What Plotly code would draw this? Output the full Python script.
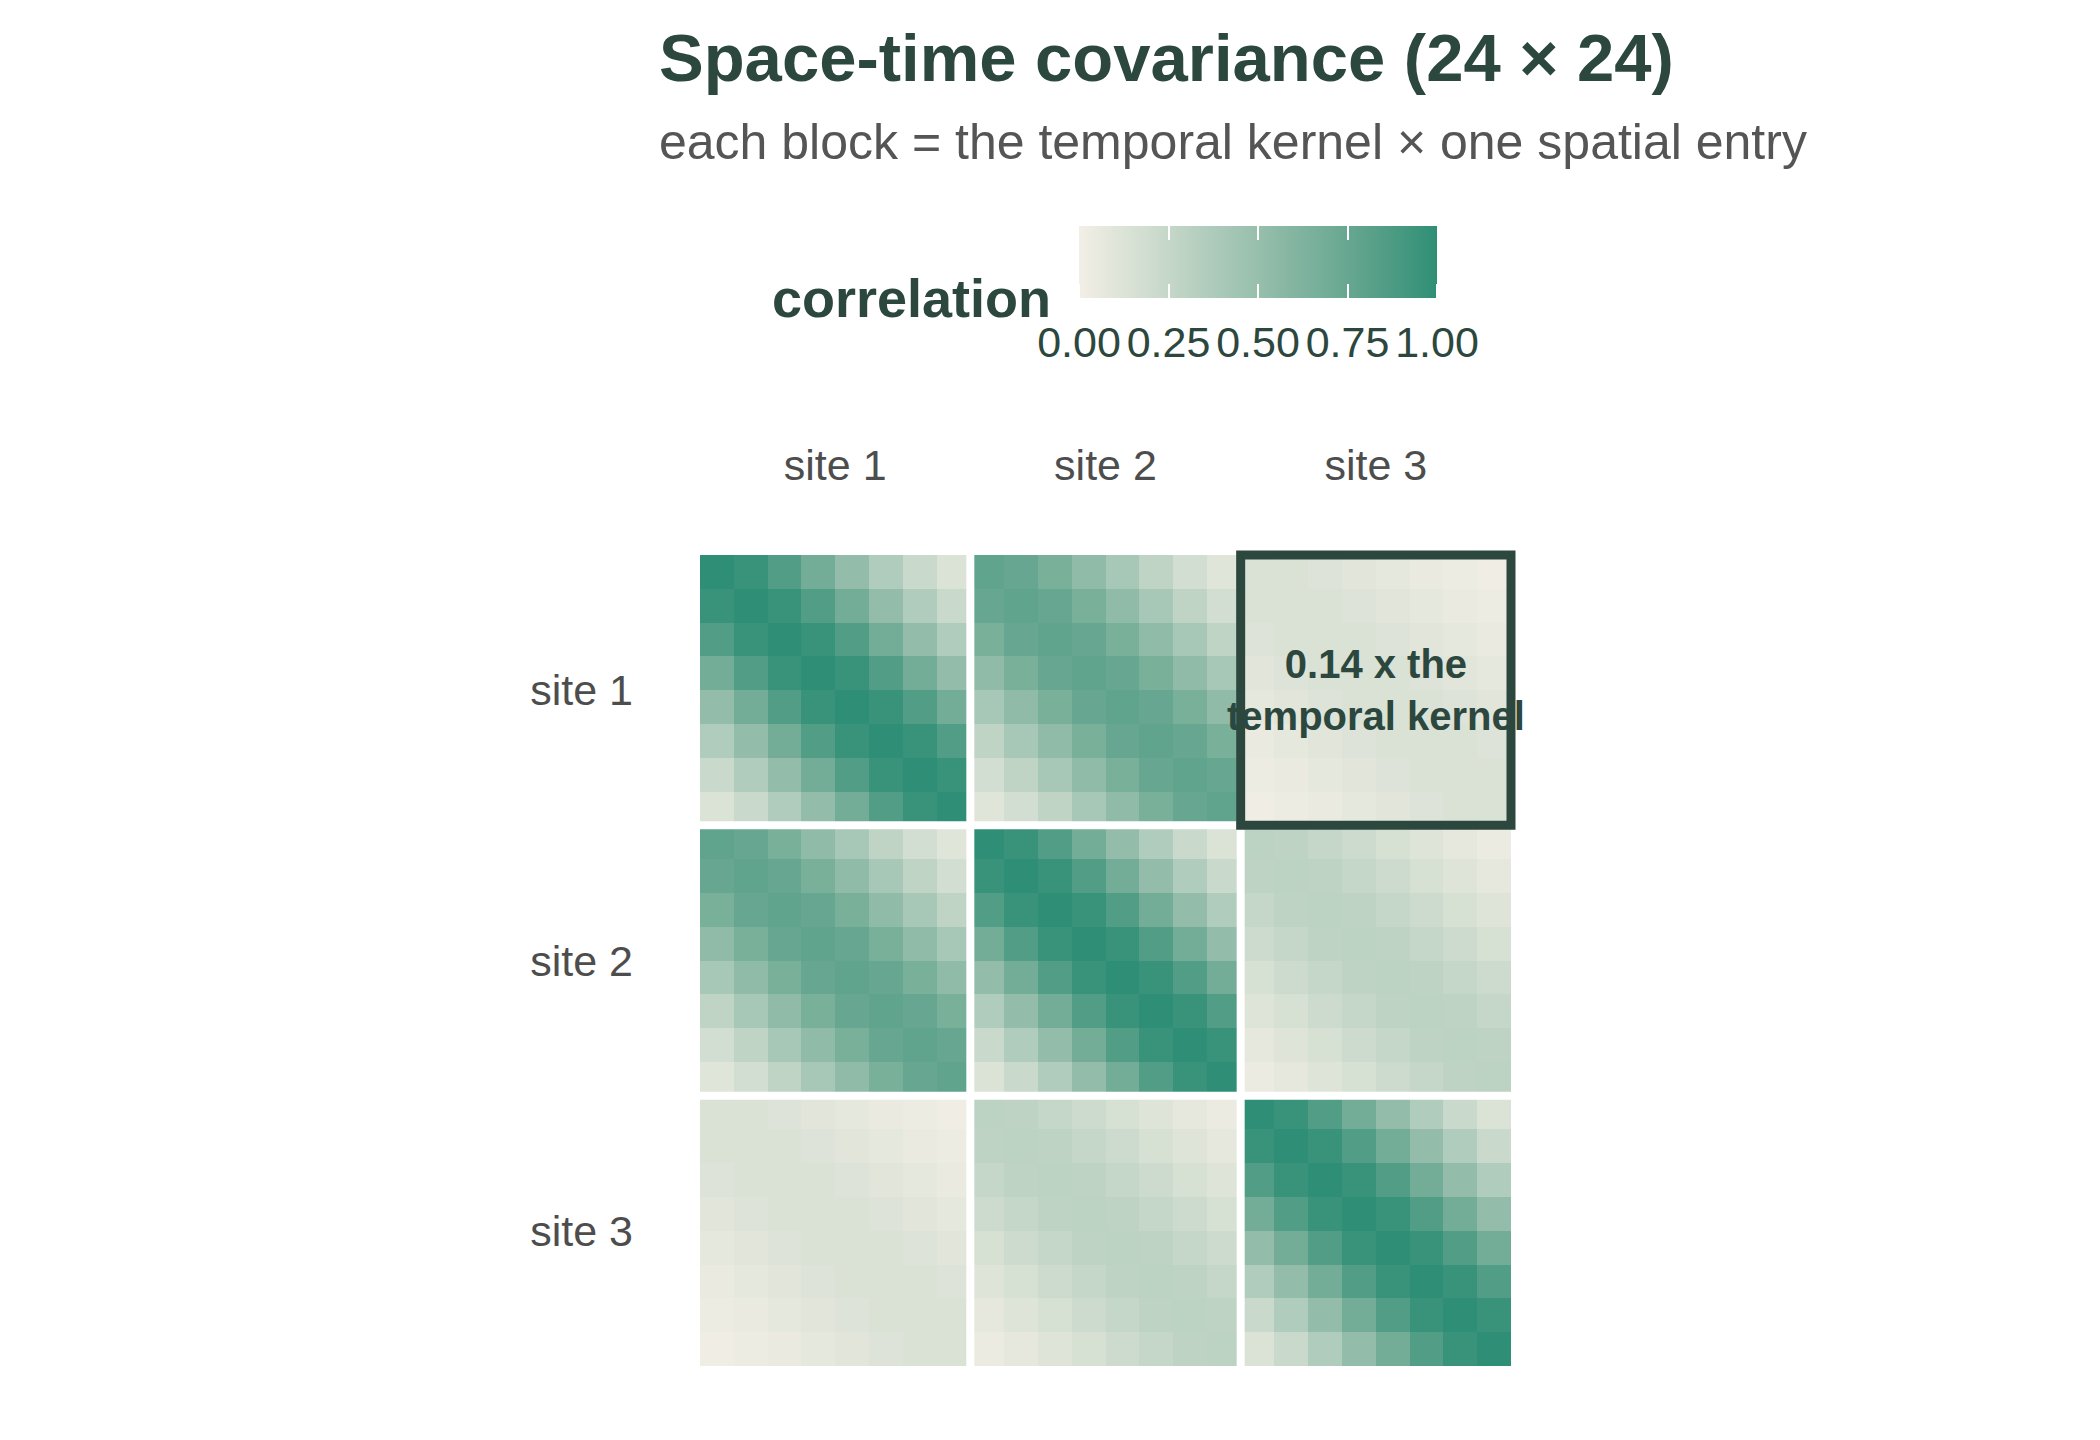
import plotly.graph_objects as go

# ---------------- data ----------------
sites = ["site 1", "site 2", "site 3"]
n_time = 8
# temporal kernel: correlation at lag 0..7
temporal_kernel = [1.00, 0.96, 0.85, 0.69, 0.52, 0.36, 0.23, 0.13]
# spatial correlation matrix between the three sites
spatial = [
    [1.00, 0.78, 0.14],
    [0.78, 1.00, 0.30],
    [0.14, 0.30, 1.00],
]
colorbar_ticks = [0.0, 0.25, 0.50, 0.75, 1.00]
highlight_block = (0, 2)  # (row site, column site)

# ---------------- build the 24 x 24 matrix (Kronecker product) ----------------
N = len(sites) * n_time
z = []
for i in range(N):
    row = []
    si, ti = divmod(i, n_time)
    for j in range(N):
        sj, tj = divmod(j, n_time)
        row.append(spatial[si][sj] * temporal_kernel[abs(ti - tj)])
    z.append(row)
idx = list(range(N))

# ---------------- colour scale interpolated in Lab (like ggplot) ----------------
LOW, HIGH = "#F3EFE6", "#2E8F76"


def _hex(h):
    return [int(h[k:k + 2], 16) for k in (1, 3, 5)]


def _lin(c):
    c = c / 255
    return c / 12.92 if c <= 0.04045 else ((c + 0.055) / 1.055) ** 2.4


def _delin(c):
    v = 12.92 * c if c <= 0.0031308 else 1.055 * max(c, 0) ** (1 / 2.4) - 0.055
    return max(0, min(255, round(v * 255)))


def _f(t):
    return t ** (1 / 3) if t > (6 / 29) ** 3 else t / (3 * (6 / 29) ** 2) + 4 / 29


def _finv(t):
    return t ** 3 if t > 6 / 29 else 3 * (6 / 29) ** 2 * (t - 4 / 29)


def to_lab(h):
    r, g, b = [_lin(c) for c in _hex(h)]
    X = (0.4124 * r + 0.3576 * g + 0.1805 * b) / 0.95047
    Y = 0.2126 * r + 0.7152 * g + 0.0722 * b
    Z = (0.0193 * r + 0.1192 * g + 0.9505 * b) / 1.08883
    return (116 * _f(Y) - 16, 500 * (_f(X) - _f(Y)), 200 * (_f(Y) - _f(Z)))


def from_lab(L, a, b):
    fy = (L + 16) / 116
    X = _finv(fy + a / 500) * 0.95047
    Y = _finv(fy)
    Z = _finv(fy - b / 200) * 1.08883
    r = 3.2406 * X - 1.5372 * Y - 0.4986 * Z
    g = -0.9689 * X + 1.8758 * Y + 0.0415 * Z
    bb = 0.0557 * X - 0.2040 * Y + 1.0570 * Z
    return "rgb(%d,%d,%d)" % (_delin(r), _delin(g), _delin(bb))


lo, hi = to_lab(LOW), to_lab(HIGH)
nstops = 21
colorscale = []
for k in range(nstops):
    t = k / (nstops - 1)
    colorscale.append([t, from_lab(*[lo[c] + (hi[c] - lo[c]) * t for c in range(3)])])

# ---------------- figure ----------------
DARK = "#2C473E"
FONT = "Liberation Sans"
W, H = 2100, 1440
ML, MR, MT, MB = 700, 589, 555, 74
PW, PH = W - ML - MR, H - MT - MB

# legend bar geometry (pixels)
CB_LEFT, CB_RIGHT, CB_TOP, CB_THICK, CB_NOTCH = 1079, 1437, 226, 72, 14

fig = go.Figure()
# the same matrix is drawn with two identical colour axes: one gives the
# full-height legend bar with white tick lines, the other the narrower
# centre of the bar plus the tick labels (ggplot-style notched ticks)
fig.add_trace(go.Heatmap(z=z, x=idx, y=idx, coloraxis="coloraxis",
                         hoverinfo="skip", zsmooth=False))
fig.add_trace(go.Heatmap(z=z, x=idx, y=idx, coloraxis="coloraxis2",
                         hoverinfo="skip", zsmooth=False))

centers = [s * n_time + (n_time - 1) / 2 for s in range(len(sites))]
bounds = [s * n_time - 0.5 for s in range(1, len(sites))]

shapes = []
for b in bounds:
    shapes.append(dict(type="line", xref="x", yref="y", x0=b, x1=b, y0=-0.5, y1=N - 0.5,
                       line=dict(color="white", width=8), layer="above"))
    shapes.append(dict(type="line", xref="x", yref="y", y0=b, y1=b, x0=-0.5, x1=N - 0.5,
                       line=dict(color="white", width=8), layer="above"))
hr, hc = highlight_block
shapes.append(dict(
    type="rect", xref="x domain", yref="y domain",
    x0=hc * n_time / N, x1=(hc + 1) * n_time / N,
    y0=1 - hr * n_time / N, y1=1 - (hr + 1) * n_time / N,
    line=dict(color=DARK, width=9), fillcolor="rgba(0,0,0,0)", layer="above",
))

annotations = [
    dict(text="%.2f x the<br>temporal kernel" % spatial[hr][hc],
         x=centers[hc], y=centers[hr], xref="x", yref="y", showarrow=False,
         font=dict(family=FONT, size=40, color=DARK, weight=700)),
    dict(text="each block = the temporal kernel \u00d7 one spatial entry",
         xref="paper", yref="paper", x=(657 - ML) / PW, y=(H - MB - 142) / PH,
         xanchor="left", yanchor="middle", showarrow=False,
         font=dict(family=FONT, size=50, color="#555555")),
    dict(text="correlation", xref="paper", yref="paper",
         x=(1053 - ML) / PW, y=(H - MB - 298) / PH,
         xanchor="right", yanchor="middle", showarrow=False,
         font=dict(family=FONT, size=54, color=DARK, weight=700)),
]

cb_common = dict(
    orientation="h", lenmode="pixels", len=CB_RIGHT - CB_LEFT,
    thicknessmode="pixels",
    x=((CB_LEFT + CB_RIGHT) / 2 - ML) / PW, xanchor="center", yanchor="top",
    xpad=0, ypad=0, outlinewidth=0,
    tickvals=colorbar_ticks, tickformat=".2f",
    tickwidth=2, tickcolor="white",
    tickfont=dict(family=FONT, size=43, color=DARK),
    title=dict(text=""),
)

fig.update_layout(
    width=W, height=H, autosize=False,
    margin=dict(l=ML, r=MR, t=MT, b=MB, pad=0),
    paper_bgcolor="white", plot_bgcolor="white",
    title=dict(text="Space-time covariance (24 \u00d7 24)",
               xref="container", yref="container",
               x=659 / W, xanchor="left", y=1 - 58 / H, yanchor="middle",
               font=dict(family=FONT, size=67, color=DARK, weight=700)),
    coloraxis=dict(
        colorscale=colorscale, cmin=0, cmax=1,
        colorbar=dict(cb_common, thickness=CB_THICK,
                      y=(H - MB - CB_TOP) / PH,
                      ticks="inside", ticklen=CB_THICK, showticklabels=False),
    ),
    coloraxis2=dict(
        colorscale=colorscale, cmin=0, cmax=1,
        colorbar=dict(cb_common, thickness=CB_THICK - 2 * CB_NOTCH,
                      y=(H - MB - CB_TOP - CB_NOTCH) / PH,
                      ticks="outside", ticklen=CB_NOTCH + 8, showticklabels=True),
    ),
    xaxis=dict(side="top", tickvals=centers, ticktext=sites, range=[-0.5, N - 0.5],
               showgrid=False, zeroline=False, showline=False, ticks="",
               ticklabelstandoff=65,
               tickfont=dict(family=FONT, size=43, color="#4D4D4D")),
    yaxis=dict(tickvals=centers, ticktext=sites, range=[N - 0.5, -0.5],
               showgrid=False, zeroline=False, showline=False, ticks="",
               ticklabelstandoff=66,
               tickfont=dict(family=FONT, size=43, color="#4D4D4D")),
    shapes=shapes, annotations=annotations,
)

fig.write_html("out.html", config={"displayModeBar": False},
               post_script="document.body.style.margin='0px';")
